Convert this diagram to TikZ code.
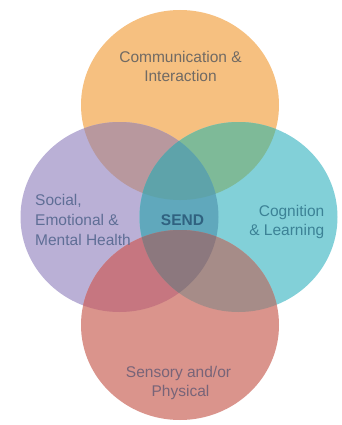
\documentclass[tikz,border=0pt]{standalone}
\usepackage{fontspec}
\setmainfont{Liberation Sans}
\definecolor{cA}{RGB}{246,192,128}
\definecolor{cB}{RGB}{186,176,214}
\definecolor{cC}{RGB}{130,208,216}
\definecolor{cD}{RGB}{218,148,140}
\definecolor{cAB}{RGB}{184,152,158}
\definecolor{cAC}{RGB}{126,186,152}
\definecolor{cBC}{RGB}{96,168,188}
\definecolor{cABC}{RGB}{94,163,170}
\definecolor{cBD}{RGB}{198,118,128}
\definecolor{cCD}{RGB}{166,140,136}
\definecolor{cBCD}{RGB}{140,120,126}
\definecolor{tA}{RGB}{112,106,100}
\definecolor{tB}{RGB}{95,110,150}
\definecolor{tS}{RGB}{48,98,128}
\definecolor{tC}{RGB}{60,130,150}
\definecolor{tD}{RGB}{120,100,120}
\tikzset{
  lbl/.style={inner sep=0pt, anchor=base, font=\fontsize{15.5}{19}\selectfont},
}
\begin{document}
\begin{tikzpicture}[x=1pt,y=-1pt]
\useasboundingbox (0,0) rectangle (342,425);
\def\RX{99}\def\RY{95}
\def\pA{(180,105) ellipse [x radius=\RX, y radius=\RY]}
\def\pB{(119.5,217) ellipse [x radius=\RX, y radius=\RY]}
\def\pC{(238.5,217) ellipse [x radius=\RX, y radius=\RY]}
\def\pD{(180,325) ellipse [x radius=\RX, y radius=\RY]}
% single circles
\fill[cA] \pA;
\fill[cB] \pB;
\fill[cC] \pC;
\fill[cD] \pD;
% pairwise overlaps
\begin{scope}\clip \pA; \fill[cAB] \pB; \fill[cAC] \pC; \end{scope}
\begin{scope}\clip \pB; \fill[cBC] \pC; \fill[cBD] \pD; \end{scope}
\begin{scope}\clip \pC; \fill[cCD] \pD; \end{scope}
% triple overlaps
\begin{scope}\clip \pA; \clip \pB; \fill[cABC] \pC; \end{scope}
\begin{scope}\clip \pB; \clip \pC; \fill[cBCD] \pD; \end{scope}
% labels
\node[lbl, text=tA] (a1) at (180.5,63) {Communication \&};
\node[lbl, text=tA] (a2) at (180.5,82) {Interaction};
\node[lbl, text=tB, anchor=base west] (b1) at (35,205.5) {Social,};
\node[lbl, text=tB, anchor=base west] (b2) at (35,225.5) {Emotional \&};
\node[lbl, text=tB, anchor=base west] (b3) at (35,245.5) {Mental Health};
\node[lbl, text=tS, font=\fontsize{15.5}{19}\selectfont\bfseries] (s) at (182.5,225.5) {SEND};
\node[lbl, text=tC, anchor=base east] (c1) at (324.5,216.5) {Cognition};
\node[lbl, text=tC, anchor=base east] (c2) at (324.5,235.5) {\& Learning};
\node[lbl, text=tD] (d1) at (178.5,377.5) {Sensory and/or};
\node[lbl, text=tD] (d2) at (180.5,396) {Physical};
\end{tikzpicture}
\end{document}
